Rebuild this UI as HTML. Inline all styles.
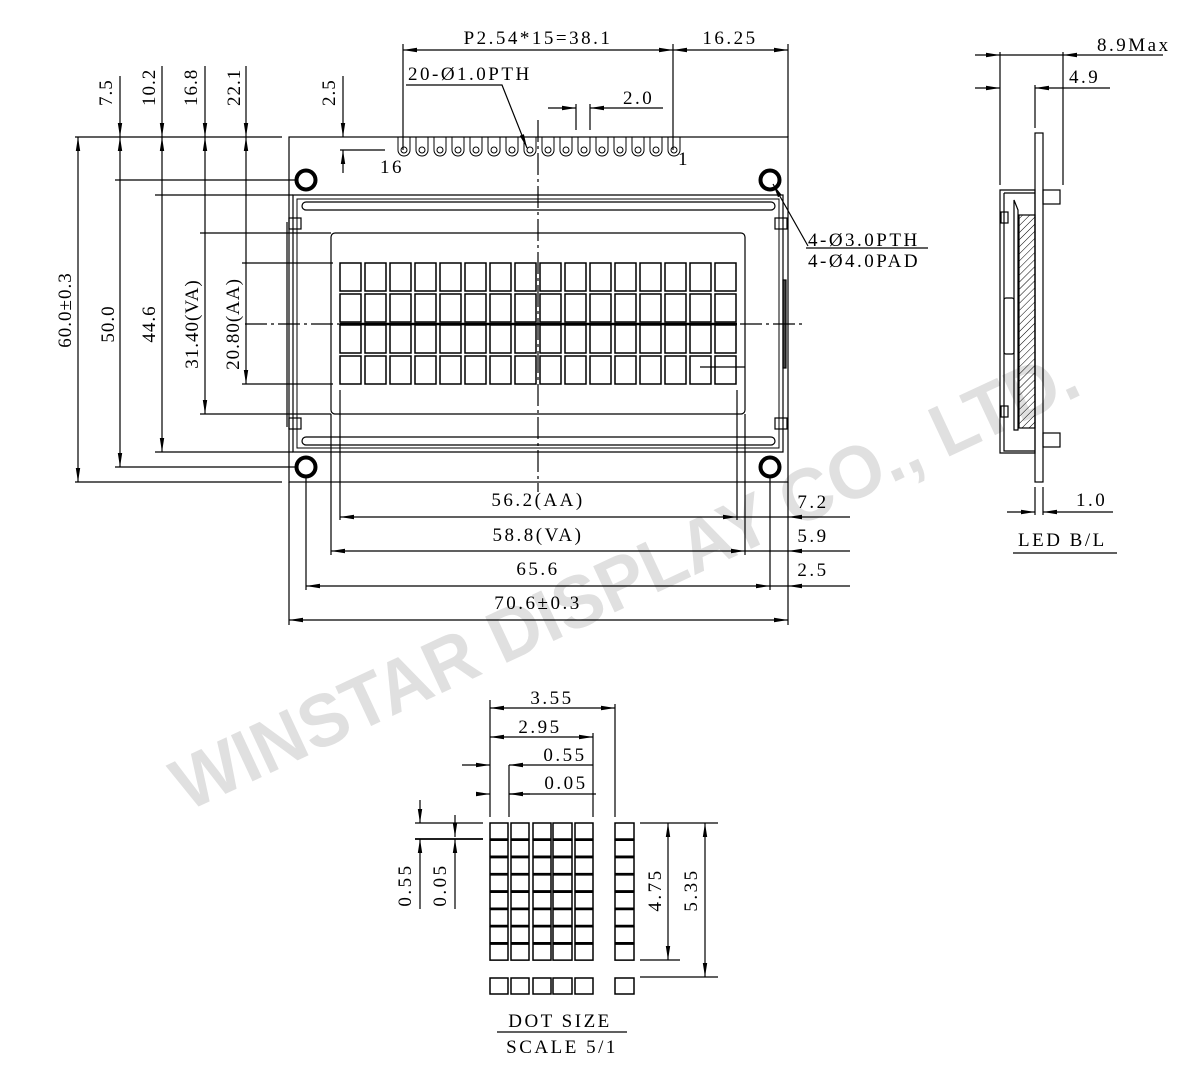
<!DOCTYPE html>
<html><head><meta charset="utf-8"><style>html,body{margin:0;padding:0;background:#fff}svg{display:block}</style></head>
<body>
<svg width="1200" height="1077" viewBox="0 0 1200 1077" xmlns="http://www.w3.org/2000/svg" font-family="Liberation Serif, serif" font-size="19" fill="none" stroke="#000" stroke-width="1.2">
<defs>
<marker id="a" viewBox="0 0 14 6" refX="14" refY="3" markerWidth="14" markerHeight="6" markerUnits="userSpaceOnUse" orient="auto-start-reverse"><path d="M0,0.8 L14,3 L0,5.2z" fill="#000" stroke="none"/></marker>
<pattern id="h" width="5" height="5" patternUnits="userSpaceOnUse" patternTransform="rotate(45)"><line x1="0" y1="0" x2="0" y2="5" stroke="#000" stroke-width="1"/></pattern>
</defs>
<!-- watermark -->
<text x="625" y="605" transform="rotate(-25 625 580)" font-family="Liberation Sans, sans-serif" font-weight="bold" font-size="74" fill="#e0e0e0" stroke="none" text-anchor="middle" textLength="990" lengthAdjust="spacingAndGlyphs">WINSTAR DISPLAY CO., LTD.</text>

<!-- board outline -->
<rect x="289" y="137" width="499" height="345"/>
<!-- bezel -->
<path d="M293,195 H783 V452 H293 Z"/>
<path d="M297,199 H779 V448 H297 Z" stroke-width="1"/>
<rect x="302" y="202" width="473" height="8" rx="4"/>
<rect x="302" y="437" width="473" height="8" rx="4"/>
<rect x="289" y="218" width="12" height="11"/><rect x="775" y="218" width="12" height="11"/>
<rect x="289" y="418" width="12" height="11"/><rect x="775" y="418" width="12" height="11"/>
<line x1="287" y1="222" x2="287" y2="427"/>
<rect x="783" y="280" width="3" height="88" fill="#444"/>
<!-- VA -->
<rect x="331" y="233" width="414" height="181" rx="4"/>
<!-- chars -->
<g stroke-width="1.5">
<path id="row" d="M340,263h21v28h-21z M365,263h21v28h-21z M390,263h21v28h-21z M415,263h21v28h-21z M440,263h21v28h-21z M465,263h21v28h-21z M490,263h21v28h-21z M515,263h21v28h-21z M540,263h21v28h-21z M565,263h21v28h-21z M590,263h21v28h-21z M615,263h21v28h-21z M640,263h21v28h-21z M665,263h21v28h-21z M690,263h21v28h-21z M715,263h21v28h-21z"/>
<use href="#row" y="31"/><use href="#row" y="62"/><use href="#row" y="93"/>
</g>
<line x1="700" y1="367" x2="745" y2="367"/>
<!-- holes -->
<g stroke-width="4"><circle cx="306" cy="180" r="9.5"/><circle cx="770" cy="180" r="9.5"/><circle cx="306" cy="467" r="9.5"/><circle cx="770" cy="467" r="9.5"/></g>
<!-- pins -->
<g stroke-width="1">
<path id="pin" d="M398,137 V150 A6,6 0 0 0 410,150 V137"/><circle cx="404" cy="150" r="3"/>
<use href="#pin" x="18"/><use href="#pin" x="36"/><use href="#pin" x="54"/><use href="#pin" x="72"/><use href="#pin" x="90"/><use href="#pin" x="108"/><use href="#pin" x="126"/><use href="#pin" x="144"/><use href="#pin" x="162"/><use href="#pin" x="180"/><use href="#pin" x="198"/><use href="#pin" x="216"/><use href="#pin" x="234"/><use href="#pin" x="252"/><use href="#pin" x="270"/>
<circle cx="422" cy="150" r="3"/><circle cx="440" cy="150" r="3"/><circle cx="458" cy="150" r="3"/><circle cx="476" cy="150" r="3"/><circle cx="494" cy="150" r="3"/><circle cx="512" cy="150" r="3"/><circle cx="530" cy="150" r="3"/><circle cx="548" cy="150" r="3"/><circle cx="566" cy="150" r="3"/><circle cx="584" cy="150" r="3"/><circle cx="602" cy="150" r="3"/><circle cx="620" cy="150" r="3"/><circle cx="638" cy="150" r="3"/><circle cx="656" cy="150" r="3"/><circle cx="674" cy="150" r="3"/>
</g>
<!-- centerlines -->
<line x1="538" y1="120" x2="538" y2="492" stroke-dasharray="22,4,3,4"/>
<line x1="245" y1="324" x2="805" y2="324" stroke-dasharray="22,4,3,4"/>
<line x1="340" y1="324" x2="737" y2="324" stroke-width="2.5"/>

<!-- top dims -->
<line x1="403" y1="44" x2="403" y2="150"/><line x1="673" y1="44" x2="673" y2="150"/><line x1="788" y1="44" x2="788" y2="137"/>
<line x1="403" y1="50" x2="673" y2="50" marker-start="url(#a)" marker-end="url(#a)"/>
<line x1="673" y1="50" x2="788" y2="50" marker-start="url(#a)" marker-end="url(#a)"/>
<g fill="#000" stroke="none" letter-spacing="2.5">
<text x="538" y="44" text-anchor="middle">P2.54*15=38.1</text>
<text x="730" y="44" text-anchor="middle">16.25</text>
<text x="408" y="80">20-Ø1.0PTH</text>
<text x="623" y="104">2.0</text>
<text x="380" y="173">16</text>
<text x="678" y="165">1</text>
</g>
<polyline points="406,85 502,85 527,148" marker-end="url(#a)"/>
<line x1="576" y1="104" x2="576" y2="130"/><line x1="590" y1="104" x2="590" y2="130"/>
<line x1="548" y1="108" x2="576" y2="108" marker-end="url(#a)"/>
<line x1="663" y1="108" x2="590" y2="108" marker-end="url(#a)"/>
<!-- left top dims -->
<line x1="120" y1="76" x2="120" y2="137" marker-end="url(#a)"/>
<line x1="162" y1="66" x2="162" y2="137" marker-end="url(#a)"/>
<line x1="205" y1="66" x2="205" y2="137" marker-end="url(#a)"/>
<line x1="246" y1="66" x2="246" y2="137" marker-end="url(#a)"/>
<line x1="343" y1="76" x2="343" y2="137" marker-end="url(#a)"/>
<line x1="343" y1="173" x2="343" y2="150" marker-end="url(#a)"/>
<line x1="340" y1="150" x2="385" y2="150"/>
<g fill="#000" stroke="none" letter-spacing="1">
<text transform="translate(112,106) rotate(-90)">7.5</text>
<text transform="translate(155,106) rotate(-90)">10.2</text>
<text transform="translate(197,106) rotate(-90)">16.8</text>
<text transform="translate(240,106) rotate(-90)">22.1</text>
<text transform="translate(335,106) rotate(-90)">2.5</text>
</g>
<!-- left horizontal ext -->
<line x1="75" y1="137" x2="282" y2="137"/>
<line x1="115" y1="180" x2="297" y2="180"/>
<line x1="155" y1="195" x2="293" y2="195"/>
<line x1="200" y1="233" x2="331" y2="233"/>
<line x1="242" y1="263" x2="333" y2="263"/>
<line x1="242" y1="384" x2="333" y2="384"/>
<line x1="200" y1="414" x2="331" y2="414"/>
<line x1="155" y1="452" x2="293" y2="452"/>
<line x1="115" y1="467" x2="297" y2="467"/>
<line x1="75" y1="482" x2="282" y2="482"/>
<!-- left vertical dims -->
<line x1="78" y1="137" x2="78" y2="482" marker-start="url(#a)" marker-end="url(#a)"/>
<line x1="120" y1="137" x2="120" y2="467" marker-start="url(#a)" marker-end="url(#a)"/>
<line x1="162" y1="137" x2="162" y2="452" marker-start="url(#a)" marker-end="url(#a)"/>
<line x1="205" y1="137" x2="205" y2="414" marker-start="url(#a)" marker-end="url(#a)"/>
<line x1="246" y1="137" x2="246" y2="384" marker-start="url(#a)" marker-end="url(#a)"/>
<g fill="#000" stroke="none" letter-spacing="1" text-anchor="middle">
<text transform="translate(71,310) rotate(-90)">60.0±0.3</text>
<text transform="translate(114,324) rotate(-90)">50.0</text>
<text transform="translate(155,324) rotate(-90)">44.6</text>
<text transform="translate(198,324) rotate(-90)">31.40(VA)</text>
<text transform="translate(239,324) rotate(-90)">20.80(AA)</text>
</g>
<!-- right hole label -->
<line x1="808" y1="246" x2="773" y2="184" marker-end="url(#a)"/>
<line x1="806" y1="248" x2="928" y2="248"/>
<g fill="#000" stroke="none" letter-spacing="2.5">
<text x="808" y="246">4-Ø3.0PTH</text>
<text x="808" y="267">4-Ø4.0PAD</text>
</g>
<!-- bottom dims -->
<line x1="289" y1="482" x2="289" y2="625"/><line x1="788" y1="482" x2="788" y2="625"/>
<line x1="306" y1="476" x2="306" y2="590"/><line x1="770" y1="476" x2="770" y2="590"/>
<line x1="331" y1="414" x2="331" y2="555"/><line x1="745" y1="414" x2="745" y2="555"/>
<line x1="340" y1="390" x2="340" y2="520"/><line x1="737" y1="390" x2="737" y2="520"/>
<line x1="340" y1="517" x2="737" y2="517" marker-start="url(#a)" marker-end="url(#a)"/>
<line x1="331" y1="551" x2="745" y2="551" marker-start="url(#a)" marker-end="url(#a)"/>
<line x1="306" y1="586" x2="770" y2="586" marker-start="url(#a)" marker-end="url(#a)"/>
<line x1="289" y1="620" x2="788" y2="620" marker-start="url(#a)" marker-end="url(#a)"/>
<line x1="850" y1="517" x2="788" y2="517" marker-end="url(#a)"/><line x1="737" y1="517" x2="788" y2="517"/>
<line x1="850" y1="551" x2="788" y2="551" marker-end="url(#a)"/><line x1="745" y1="551" x2="788" y2="551"/>
<line x1="850" y1="586" x2="788" y2="586" marker-end="url(#a)"/><line x1="770" y1="586" x2="788" y2="586"/>
<g fill="#000" stroke="none" letter-spacing="2.5" text-anchor="middle">
<text x="538" y="506">56.2(AA)</text>
<text x="538" y="541">58.8(VA)</text>
<text x="538" y="575">65.6</text>
<text x="538" y="609">70.6±0.3</text>
<text x="813" y="508">7.2</text>
<text x="813" y="542">5.9</text>
<text x="813" y="576">2.5</text>
</g>

<!-- side view -->
<rect x="1035" y="133" width="8" height="349"/>
<path d="M1000,190 H1035 V453 H1000 Z"/>
<path d="M1004,193 H1035 M1004,193 V451 H1035"/>
<rect x="1043" y="190" width="17" height="14"/><rect x="1043" y="433" width="17" height="14"/>
<rect x="1001" y="212" width="7" height="11"/><rect x="1001" y="406" width="7" height="11"/>
<rect x="1004" y="298" width="10" height="56" rx="2"/>
<path d="M1014,200 L1018,210 V430 H1014 Z"/>
<rect x="1019" y="215" width="16" height="213" fill="url(#h)"/>
<line x1="1000" y1="52" x2="1000" y2="185"/><line x1="1063" y1="52" x2="1063" y2="185"/>
<line x1="975" y1="55" x2="1000" y2="55" marker-end="url(#a)"/>
<line x1="1163" y1="55" x2="1063" y2="55" marker-end="url(#a)"/><line x1="1000" y1="55" x2="1063" y2="55"/>
<line x1="1035" y1="85" x2="1035" y2="128"/>
<line x1="975" y1="88" x2="1000" y2="88" marker-end="url(#a)"/>
<line x1="1063" y1="88" x2="1035" y2="88" marker-end="url(#a)"/><line x1="1063" y1="88" x2="1110" y2="88"/>
<line x1="1035" y1="487" x2="1035" y2="515"/><line x1="1043" y1="487" x2="1043" y2="515"/>
<line x1="1007" y1="512" x2="1035" y2="512" marker-end="url(#a)"/>
<line x1="1070" y1="512" x2="1043" y2="512" marker-end="url(#a)"/><line x1="1070" y1="512" x2="1113" y2="512"/>
<line x1="1013" y1="553" x2="1117" y2="553"/>
<g fill="#000" stroke="none" letter-spacing="2.5">
<text x="1097" y="51">8.9Max</text>
<text x="1069" y="83">4.9</text>
<text x="1076" y="506">1.0</text>
<text x="1018" y="546">LED B/L</text>
</g>

<!-- dot size -->
<g stroke-width="1.5">
<path id="dr" d="M490,823h18v16h-18z M511,823h18v16h-18z M533,823h18v16h-18z M553,823h19v16h-19z M575,823h18v16h-18z M615,823h19v16h-19z"/>
<use href="#dr" y="17.3"/><use href="#dr" y="34.6"/><use href="#dr" y="51.9"/><use href="#dr" y="69.2"/><use href="#dr" y="86.5"/><use href="#dr" y="103.8"/><use href="#dr" y="121.1"/>
<use href="#dr" y="155"/>
</g>
<line x1="490" y1="700" x2="490" y2="817"/><line x1="509" y1="765" x2="509" y2="817"/>
<line x1="593" y1="733" x2="593" y2="817"/><line x1="615" y1="704" x2="615" y2="817"/>
<line x1="490" y1="708" x2="615" y2="708" marker-start="url(#a)" marker-end="url(#a)"/>
<line x1="490" y1="737" x2="593" y2="737" marker-start="url(#a)" marker-end="url(#a)"/>
<line x1="462" y1="765" x2="490" y2="765" marker-end="url(#a)"/><line x1="593" y1="765" x2="509" y2="765" marker-end="url(#a)"/>
<line x1="480" y1="794" x2="490" y2="794" marker-end="url(#a)"/><line x1="596" y1="794" x2="509" y2="794"/><line x1="530" y1="794" x2="509" y2="794" marker-end="url(#a)"/>
<line x1="415" y1="823" x2="483" y2="823"/><line x1="415" y1="839" x2="483" y2="839" stroke-width="1.8"/>
<line x1="420" y1="800" x2="420" y2="823" marker-end="url(#a)"/><line x1="420" y1="909" x2="420" y2="839" marker-end="url(#a)"/>
<line x1="455" y1="815" x2="455" y2="837" marker-end="url(#a)"/><line x1="455" y1="909" x2="455" y2="839" marker-end="url(#a)"/>
<line x1="640" y1="823" x2="718" y2="823"/><line x1="640" y1="960" x2="680" y2="960"/><line x1="640" y1="977" x2="718" y2="977"/>
<line x1="668" y1="823" x2="668" y2="960" marker-start="url(#a)" marker-end="url(#a)"/>
<line x1="705" y1="823" x2="705" y2="977" marker-start="url(#a)" marker-end="url(#a)"/>
<line x1="497" y1="1032" x2="627" y2="1032"/>
<g fill="#000" stroke="none" letter-spacing="2.5">
<text x="552" y="704" text-anchor="middle">3.55</text>
<text x="540" y="733" text-anchor="middle">2.95</text>
<text x="565" y="761" text-anchor="middle">0.55</text>
<text x="566" y="789" text-anchor="middle">0.05</text>
<text transform="translate(411,885) rotate(-90)" text-anchor="middle">0.55</text>
<text transform="translate(446,885) rotate(-90)" text-anchor="middle">0.05</text>
<text transform="translate(661,890) rotate(-90)" text-anchor="middle">4.75</text>
<text transform="translate(697,890) rotate(-90)" text-anchor="middle">5.35</text>
<text x="560" y="1027" text-anchor="middle">DOT SIZE</text>
<text x="562" y="1053" text-anchor="middle">SCALE 5/1</text>
</g>
</svg>
</body></html>
